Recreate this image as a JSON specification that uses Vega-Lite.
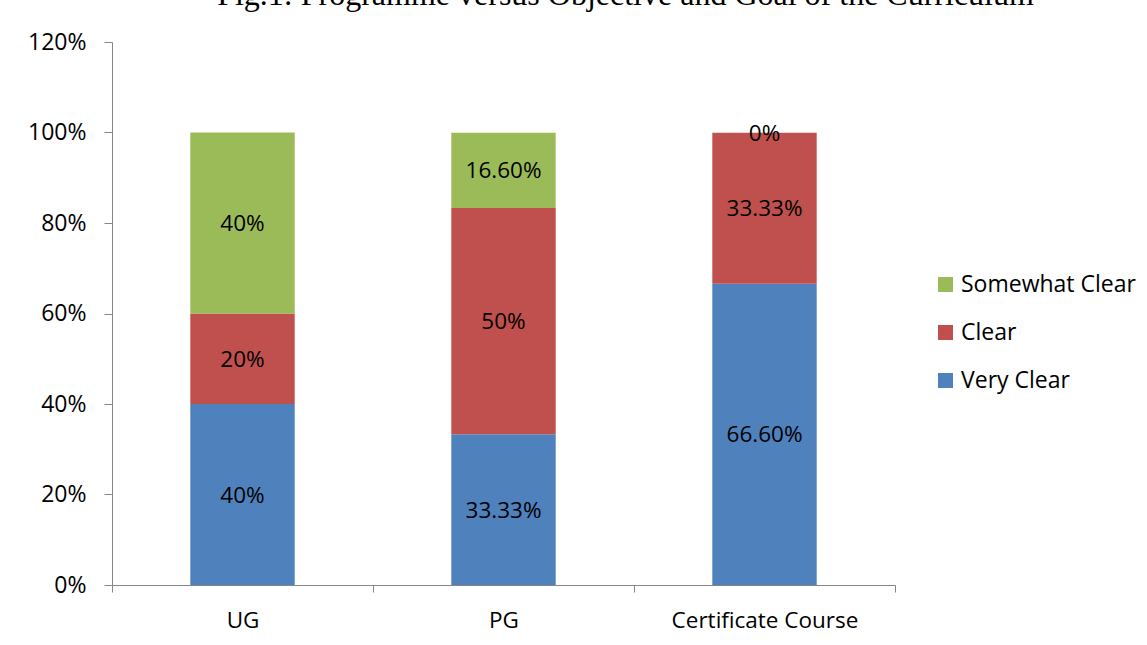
{
  "$schema": "https://vega.github.io/schema/vega-lite/v6.json",
  "width": 783,
  "height": 543,
  "autosize": {"type": "none"},
  "padding": {"left": 112, "top": 42, "right": 252, "bottom": 60},
  "background": "white",
  "config": {"view": {"stroke": null}},
  "title": {
    "text": "Fig.1: Programme versus Objective and Goal of the Curriculum",
    "font": "Liberation Serif",
    "fontSize": 32,
    "fontWeight": "normal",
    "color": "black",
    "anchor": "middle",
    "frame": "group",
    "baseline": "alphabetic",
    "offset": -6,
    "dx": 122
  },
  "data": {
    "values": [
      {"program": "UG", "level": "Very Clear", "rank": 1, "value": 0.40, "label": "40%"},
      {"program": "UG", "level": "Clear", "rank": 2, "value": 0.20, "label": "20%"},
      {"program": "UG", "level": "Somewhat Clear", "rank": 3, "value": 0.40, "label": "40%"},
      {"program": "PG", "level": "Very Clear", "rank": 1, "value": 0.3333, "label": "33.33%"},
      {"program": "PG", "level": "Clear", "rank": 2, "value": 0.50, "label": "50%"},
      {"program": "PG", "level": "Somewhat Clear", "rank": 3, "value": 0.166, "label": "16.60%"},
      {"program": "Certificate Course", "level": "Very Clear", "rank": 1, "value": 0.666, "label": "66.60%"},
      {"program": "Certificate Course", "level": "Clear", "rank": 2, "value": 0.3333, "label": "33.33%"},
      {"program": "Certificate Course", "level": "Somewhat Clear", "rank": 3, "value": 0.0, "label": "0%"}
    ]
  },
  "encoding": {
    "x": {
      "field": "program",
      "type": "nominal",
      "sort": ["UG", "PG", "Certificate Course"],
      "scale": {"paddingInner": 0, "paddingOuter": 0},
      "axis": {
        "title": null,
        "labelAngle": 0,
        "tickBand": "extent",
        "domainColor": "#868686",
        "tickColor": "#868686",
        "tickSize": 7,
        "labelFont": "Open Sans",
        "labelFontSize": 22.5,
        "labelColor": "black",
        "labelPadding": 17,
        "labelLimit": 0,
        "grid": false
      }
    }
  },
  "layer": [
    {
      "mark": {"type": "bar", "width": {"band": 0.4}},
      "encoding": {
        "y": {
          "field": "value",
          "type": "quantitative",
          "stack": "zero",
          "scale": {"domain": [0, 1.2], "nice": false},
          "axis": {
            "title": null,
            "values": [0, 0.2, 0.4, 0.6, 0.8, 1.0, 1.2],
            "format": ".0%",
            "grid": false,
            "domainColor": "#868686",
            "tickColor": "#868686",
            "tickSize": 8,
            "labelFont": "Open Sans",
            "labelFontSize": 23,
            "labelColor": "black",
            "labelPadding": 18
          }
        },
        "color": {
          "field": "level",
          "type": "nominal",
          "scale": {
            "domain": ["Somewhat Clear", "Clear", "Very Clear"],
            "range": ["#9BBB59", "#C0504D", "#4F81BD"]
          },
          "legend": {
            "title": null,
            "orient": "none",
            "legendX": 822,
            "legendY": 231,
            "symbolType": "square",
            "symbolSize": 225,
            "symbolStrokeWidth": 0,
            "labelFont": "Open Sans",
            "labelFontSize": 23,
            "labelColor": "black",
            "labelOffset": 4,
            "labelLimit": 0,
            "rowPadding": 24,
            "padding": 0
          }
        },
        "order": {"field": "rank", "type": "quantitative"}
      }
    },
    {
      "mark": {"type": "text", "font": "Open Sans", "fontSize": 22.5, "color": "black", "baseline": "middle", "align": "center", "dy": 1},
      "encoding": {
        "y": {"field": "value", "type": "quantitative", "stack": "zero", "bandPosition": 0.5},
        "detail": {"field": "level"},
        "order": {"field": "rank", "type": "quantitative"},
        "text": {"field": "label", "type": "nominal"}
      }
    }
  ]
}
